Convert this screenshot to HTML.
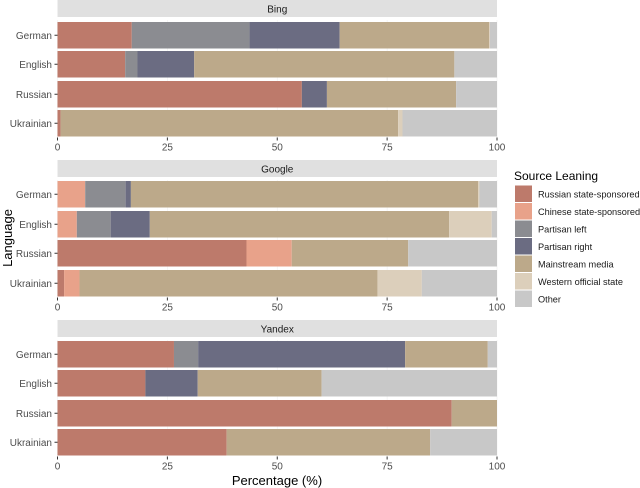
<!DOCTYPE html>
<html><head><meta charset="utf-8"><style>body{margin:0;background:#fff}svg{display:block;font-family:"Liberation Sans",sans-serif}</style></head>
<body>
<svg id="chart" width="640" height="488" xmlns="http://www.w3.org/2000/svg"></svg>
<script>
const engines = ["Bing","Google","Yandex"];
const languages = ["German","English","Russian","Ukrainian"];
const seriesNames = ["Russian state-sponsored","Chinese state-sponsored","Partisan left","Partisan right","Mainstream media","Western official state","Other"];
const xTicks = [0,25,50,75,100];
// rows: Bing(G,E,R,U), Google(G,E,R,U), Yandex(G,E,R,U)
const russian  = [16.9,15.4,55.6,0.7, 0,0,43.0,1.5, 26.5,20.0,89.7,38.5];
const chinese  = [0,0,0,0, 6.3,4.4,10.3,3.5, 0,0,0,0];
const pleft    = [26.8,2.8,0,0, 9.2,7.7,0,0, 5.5,0,0,0];
const pright   = [20.5,12.9,5.7,0, 1.2,8.9,0,0, 47.1,11.9,0,0];
const mainstream=[34.0,59.2,29.4,76.8, 79.0,68.1,26.5,67.8, 18.8,28.2,10.3,46.3];
const western  = [0.2,0,0,1.0, 0.3,9.7,0,10.1, 0,0,0,0];
const other    = [1.6,9.7,9.3,21.5, 4.0,1.2,20.2,17.1, 2.1,39.9,0,15.2];
const series=[russian,chinese,pleft,pright,mainstream,western,other];
const colors=["#bd7a6b","#e8a28a","#8b8c91","#6b6c82","#bca98a","#dccfbb","#c8c8c8"];
const svg=document.getElementById('chart');const NS="http://www.w3.org/2000/svg";
function mk(t,a,p){const e=document.createElementNS(NS,t);for(const k in a)e.setAttribute(k,a[k]);(p||svg).appendChild(e);return e;}
const X0=57.5,X1=497;const x=v=>X0+(X1-X0)*v/100;
const panelTop=[20,180,340];const stripTop=[0,160,320];
const barTops=[[22,51,81,110],[181,211,240,270],[341,370,400,429]];const barH=26.5;
engines.forEach((eng,p)=>{
  const g=mk('g',{});
  const s=mk('rect',{x:X0,y:stripTop[p],width:X1-X0,height:17,fill:'#e0e0e0'},g);
  
  const st=mk('text',{x:(X0+X1)/2,y:stripTop[p]+12.5,'font-size':10,'text-anchor':'middle',fill:'#1a1a1a'},g);st.textContent=eng;
  
  xTicks.forEach(t=>{const l=mk('line',{x1:x(t),x2:x(t),y1:panelTop[p],y2:panelTop[p]+118,stroke:'#f0f0f0','stroke-width':0.6},g);
    });
  languages.forEach((lang,i)=>{
    const r=p*4+i;let cum=0;const y=barTops[p][i];
    series.forEach((arr,k)=>{const v=arr[r];if(v>0){const b=mk('rect',{x:x(cum),y:y,width:x(cum+v)-x(cum),height:barH,fill:colors[k]},g);
      }cum+=v;});
    const tl=mk('text',{x:52,y:y+barH/2+3.5,'font-size':10,'text-anchor':'end',fill:'#4d4d4d'},g);tl.textContent=lang;
    
    const tk=mk('line',{x1:54.5,x2:57.5,y1:y+barH/2,y2:y+barH/2,stroke:'#333','stroke-width':1},g);
    
  });
  const by=barTops[p][3]+barH;
  xTicks.forEach(t=>{const tk=mk('line',{x1:x(t),x2:x(t),y1:by+1,y2:by+4,stroke:'#333'},g);
    
    const tl=mk('text',{x:x(t),y:by+14,'font-size':10,'text-anchor':'middle',fill:'#4d4d4d'},g);tl.textContent=t;
    });
});
const xt=mk('text',{x:277,y:485,'font-size':13,'text-anchor':'middle',fill:'#000'});xt.textContent='Percentage (%)';

const yt=mk('text',{x:0,y:0,'font-size':13,'text-anchor':'middle',fill:'#000',transform:'translate(12,238) rotate(-90)'});yt.textContent='Language';

const lg=mk('g',{});
const ltt=mk('text',{x:514,y:180,'font-size':12,fill:'#000'},lg);ltt.textContent='Source Leaning';

seriesNames.forEach((n,k)=>{const y=185.5+k*17.5;
  const r=mk('rect',{x:515,y:y,width:17,height:16.5,fill:colors[k]},lg);
  
  const t=mk('text',{x:538,y:y+12,'font-size':9.2,fill:'#1a1a1a'},lg);t.textContent=n;
  });
</script>
</body></html>
